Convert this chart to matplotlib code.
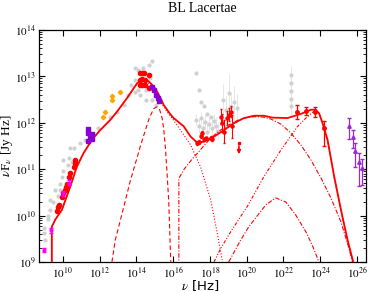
import numpy as np
import matplotlib
matplotlib.use("Agg")
import matplotlib.pyplot as plt
from matplotlib.ticker import FixedLocator, LogLocator, NullLocator

# all values are log10(nu [Hz]) and log10(nuF_nu [Jy Hz])

# model: total emission
tot_x = [9.40, 9.40, 9.60, 9.945, 10.40, 10.76, 11.12, 11.58, 12.03, 12.58, 12.95, 13.49, 14.04,
         14.22, 14.40, 14.55, 14.67, 14.80, 14.94, 15.10, 15.31, 15.49, 15.67, 15.85, 16.03, 16.58,
         16.95, 17.31, 17.67, 18.22, 18.76, 19.31, 19.85, 20.40, 20.94, 21.40, 22.22, 22.95, 23.49,
         23.76, 23.94, 24.13, 24.40, 24.76, 25.13, 25.49, 25.77, 25.85]
tot_y = [8.9, 9.76, 9.92, 10.12, 10.62, 11.05, 11.34, 11.63, 11.84, 12.06, 12.24, 12.53, 12.85,
         12.90, 12.92, 12.92, 12.89, 12.84, 12.78, 12.69, 12.53, 12.38, 12.28, 12.18, 12.10, 11.92,
         11.70, 11.57, 11.59, 11.70, 11.84, 11.99, 12.10, 12.15, 12.15, 12.11, 12.10, 12.19, 12.28,
         12.28, 12.20, 11.99, 11.63, 10.84, 10.12, 9.47, 9.04, 8.9]

# synchrotron (dotted)
syn_x = [9.40, 9.40, 9.60, 9.945, 10.40, 10.76, 11.12, 11.58, 12.03, 12.58, 12.95, 13.49, 14.04,
         14.30, 14.55, 14.80, 15.10, 15.40, 15.70, 16.03, 16.40, 16.95, 17.49, 18.04, 18.40, 18.67]
syn_y = [8.9, 9.76, 9.92, 10.12, 10.62, 11.05, 11.34, 11.63, 11.84, 12.06, 12.24, 12.53, 12.85,
         12.90, 12.89, 12.80, 12.62, 12.40, 12.22, 12.05, 11.84, 11.52, 11.05, 10.34, 9.62, 9.04]

# accretion disk (dashed)
disk_x = [12.67, 12.85, 13.13, 13.67, 14.04, 14.22, 14.49, 14.70, 14.94, 15.09, 15.25, 15.40,
          15.49, 15.58, 15.67, 15.76, 15.82, 15.87]
disk_y = [9.0, 9.47, 9.90, 10.75, 11.25, 11.50, 11.84, 12.10, 12.30, 12.34, 12.30, 12.10,
          11.85, 11.45, 10.90, 10.30, 9.60, 9.0]

# SSC (dash-dot)
ssc_x = [16.31, 16.31, 16.60, 17.0, 17.49, 18.0, 18.5, 19.0, 19.5, 20.0, 20.4, 20.9, 21.31,
         21.86, 22.40, 22.95, 23.49, 24.04, 24.58, 25.13, 25.56, 25.75]
ssc_y = [8.9, 10.80, 11.00, 11.20, 11.42, 11.65, 11.82, 11.95, 12.05, 12.11, 12.13, 12.12, 12.08,
         11.97, 11.78, 11.52, 11.20, 10.81, 10.38, 9.86, 9.30, 9.0]

# external Compton
ec_x = [18.22, 18.60, 19.13, 20.04, 20.94, 21.86, 22.77, 23.22, 23.67, 23.93, 24.13, 24.40,
        24.76, 25.13, 25.49, 25.77, 25.82]
ec_y = [9.0, 9.30, 9.65, 10.20, 10.84, 11.41, 11.92, 12.10, 12.25, 12.22, 11.97, 11.60,
        10.82, 10.10, 9.45, 9.02, 8.9]

# second order component
hump_x = [19.02, 19.30, 19.67, 20.10, 20.49, 21.04, 21.58, 22.13, 22.67, 23.22, 23.60, 23.93]
hump_y = [9.0, 9.20, 9.47, 9.75, 9.95, 10.23, 10.38, 10.29, 10.01, 9.65, 9.33, 9.0]

# simultaneous data
red_x = [9.69, 9.72, 9.77, 9.95, 9.99, 10.10, 10.18, 10.21, 10.34, 10.38, 10.62, 10.65, 10.67,
         14.17, 14.30, 14.44, 14.68, 14.19, 14.33, 14.49, 14.19, 14.33, 14.49, 14.68]
red_y = [10.10, 10.19, 10.23, 10.40, 10.49, 10.55, 10.62, 10.68, 10.83, 10.92, 11.05, 11.13, 11.20,
         13.07, 13.08, 13.07, 13.03, 12.93, 12.94, 12.93, 12.81, 12.81, 12.81, 12.75]

xr_x = [17.31, 17.40, 17.49, 17.58, 17.67, 17.76, 18.04, 18.13, 18.58, 18.67, 18.76, 18.95, 19.03, 19.13, 19.22]
xr_y = [11.56, 11.59, 11.72, 11.77, 11.64, 11.66, 11.67, 11.65, 12.13, 11.99, 11.81, 12.10, 12.17, 12.24, 11.92]
xr_err = [0.04, 0.04, 0.05, 0.05, 0.04, 0.04, 0.05, 0.04, 0.16, 0.20, 0.25, 0.15, 0.14, 0.12, 0.25]

ul_x = [19.58]
ul_y = [11.56]

gam_x = [22.76, 23.22, 23.73, 24.22]
gam_y = [12.23, 12.25, 12.23, 11.89]
gam_lo = [0.15, 0.08, 0.10, 0.40]
gam_hi = [0.15, 0.08, 0.10, 0.15]

mag_x = [8.98, 9.38, 10.02, 10.34]
mag_y = [9.26, 9.68, 10.48, 10.71]

pur_x = [11.38, 11.38, 11.49, 11.60, 11.60, 11.38, 14.86, 14.94, 15.09, 15.18, 15.25]
pur_y = [11.78, 11.61, 11.72, 11.76, 11.65, 11.87, 12.78, 12.71, 12.60, 12.53, 12.47]

ora_x = [12.21, 12.31, 12.66, 12.66, 13.13]
ora_y = [12.13, 12.23, 12.49, 12.58, 12.67]

tev_x = [25.58, 25.77, 25.91, 26.09, 26.27]
tev_y = [11.92, 11.69, 11.38, 11.16, 11.03]
tev_lo = [0.28, 0.24, 0.33, 0.52, 0.37]
tev_hi = [0.19, 0.16, 0.18, 0.18, 0.18]

# archival data (grey)
grey_x = [8.95, 8.96, 9.03, 9.17, 9.21, 9.31, 9.31, 9.44, 9.58, 9.74, 9.85, 9.85, 9.93, 10.02,
          10.02, 10.29, 10.32, 10.37, 10.48, 10.58, 10.94, 11.22, 11.65, 11.93, 12.58, 12.95,
          13.31, 13.56, 13.92, 13.92, 13.92, 14.08, 14.08, 14.22, 14.38, 14.55, 14.71, 14.84,
          14.76, 14.87, 15.04, 14.55, 13.73,
          17.27, 17.40, 17.53, 17.67, 17.86, 18.04]
grey_y = [9.62, 9.73, 9.47, 9.93, 9.98, 10.12, 10.34, 10.29, 10.55, 10.42, 10.68, 10.55, 10.83, 10.96,
          11.20, 11.09, 11.24, 11.45, 11.16, 11.46, 11.56, 11.63, 11.74, 11.89, 12.13, 12.23,
          12.38, 12.60, 13.18, 12.92, 12.66, 13.14, 12.71, 12.60, 13.18, 12.71, 13.25, 13.33,
          12.97, 12.49, 12.38, 12.49, 12.81,
          13.07, 12.71, 12.45, 12.35, 12.19, 12.13]

greyx_x = [17.27, 17.39, 17.49, 17.60, 17.71, 17.82, 17.93, 18.09, 18.20, 18.31, 18.42, 18.69,
           18.85, 19.02, 19.13, 19.29, 19.46, 22.41, 22.41, 22.41, 22.41, 22.41]
greyx_y = [12.06, 11.93, 12.10, 11.89, 12.02, 11.80, 11.97, 11.89, 12.04, 11.93, 11.82, 12.49,
           12.28, 12.64, 12.34, 12.45, 12.32, 13.03, 12.86, 12.69, 12.51, 12.36]
greyx_err = [0.12, 0.15, 0.12, 0.18, 0.15, 0.20, 0.15, 0.18, 0.15, 0.20, 0.18, 0.35,
             0.30, 0.40, 0.30, 0.35, 0.30, 0.20, 0.20, 0.20, 0.20, 0.20]

xtick_exp = [10, 12, 14, 16, 18, 20, 22, 24, 26]
ytick_exp = [9, 10, 11, 12, 13, 14]


def p(v):
    return 10 ** np.array(v, dtype=float)


def yerr(y, lo, hi):
    y = np.array(y, dtype=float)
    return [10 ** y - 10 ** (y - np.array(lo)), 10 ** (y + np.array(hi)) - 10 ** y]


plt.rcParams['font.family'] = ['Liberation Serif', 'DejaVu Serif']
plt.rcParams['mathtext.fontset'] = 'stix'

fig = plt.figure(figsize=(3.71, 2.93), dpi=100)
ax = fig.add_axes([0.105, 0.106, 0.882, 0.792])
ax.set_xscale('log')
ax.set_yscale('log')

red = '#ff0000'
grey = '#d0d0d0'

# archival
ax.errorbar(p(greyx_x), p(greyx_y), yerr=yerr(greyx_y, greyx_err, greyx_err), fmt='o',
            ms=2, color=grey, ecolor='#e2e2e2', elinewidth=0.6, capsize=0, zorder=1)
ax.plot(p(grey_x), p(grey_y), 'o', ms=2, color=grey, zorder=1)

# model curves
comp = dict(color=red, lw=0.8, zorder=3)
ax.plot(p(syn_x), p(syn_y), ls=':', **comp)
ax.plot(p(disk_x), p(disk_y), ls=(0, (4, 2.5)), **comp)
ax.plot(p(ssc_x), p(ssc_y), ls=(0, (4, 1.5, 1, 1.5)), **comp)
ax.plot(p(ec_x), p(ec_y), ls=(0, (3, 1.5, 1, 1.5, 1, 1.5)), **comp)
ax.plot(p(hump_x), p(hump_y), ls=(0, (4, 1.5, 1, 1.5)), **comp)
ax.plot(p(tot_x), p(tot_y), '-', color=red, lw=1.3, zorder=4)

# data
ax.plot(p(red_x), p(red_y), 'o', ms=3, color=red, zorder=5)
ax.errorbar(p(xr_x), p(xr_y), yerr=yerr(xr_y, xr_err, xr_err), fmt='o', ms=2.2,
            color=red, elinewidth=0.8, capsize=1, zorder=5)
ax.errorbar(p(gam_x), p(gam_y), yerr=yerr(gam_y, gam_lo, gam_hi), fmt='o', ms=2.5,
            color=red, elinewidth=0.9, capsize=1.5, zorder=5)
for x, y in zip(ul_x, ul_y):
    ax.annotate('', xy=(10 ** x, 10 ** (y - 0.3)), xytext=(10 ** x, 10 ** y),
                arrowprops=dict(arrowstyle='-|>', color=red, lw=1.2, mutation_scale=5), zorder=5)
    ax.plot([10 ** x], [10 ** y], 's', ms=1.8, color=red, zorder=5)
ax.errorbar(p(mag_x), p(mag_y), yerr=yerr(mag_y, [0.05] * 4, [0.05] * 4), fmt='o', ms=2,
            color='#ff00ff', elinewidth=0.7, capsize=1.2, zorder=6)
ax.plot(p(pur_x), p(pur_y), 's', ms=2.5, color='#8a00d4', zorder=6)
ax.plot(p(ora_x), p(ora_y), 'D', ms=2.2, color='#ffa500', zorder=6)
ax.errorbar(p(tev_x), p(tev_y), yerr=yerr(tev_y, tev_lo, tev_hi), fmt='^', ms=2.5,
            color='#9a2ad8', elinewidth=0.9, capsize=1.5, zorder=6)

ax.set_xlim(10 ** 8.7, 10 ** 26.5)
ax.set_ylim(1e9, 1e14)
ax.xaxis.set_major_locator(FixedLocator(p(xtick_exp)))
ax.xaxis.set_minor_locator(NullLocator())
ax.set_xticklabels([r'$10^{%d}$' % e for e in xtick_exp])
ax.yaxis.set_major_locator(FixedLocator(p(ytick_exp)))
ax.yaxis.set_minor_locator(LogLocator(base=10.0, subs=np.arange(2, 10), numticks=10))
ax.set_yticklabels([r'$10^{%d}$' % e for e in ytick_exp])
ax.tick_params(which='both', direction='in', top=True, right=True, labelsize=8)
ax.tick_params(which='major', length=4.5, width=0.8, pad=2.5)
ax.tick_params(which='minor', length=2, width=0.6)
for s in ax.spines.values():
    s.set_linewidth(0.9)

ax.set_title('BL Lacertae', fontsize=10, pad=13)
fig.text(200 / 371, 1 - 286 / 293, r'$\nu$ [Hz]', fontsize=9.5, family='DejaVu Sans',
         ha='center', va='center')
fig.text(7 / 371, 1 - 146 / 293, r'$\nu$F$_\nu$ [Jy Hz]', fontsize=9.5, rotation=90,
         ha='center', va='center')

fig.savefig('out.png', dpi=100)
